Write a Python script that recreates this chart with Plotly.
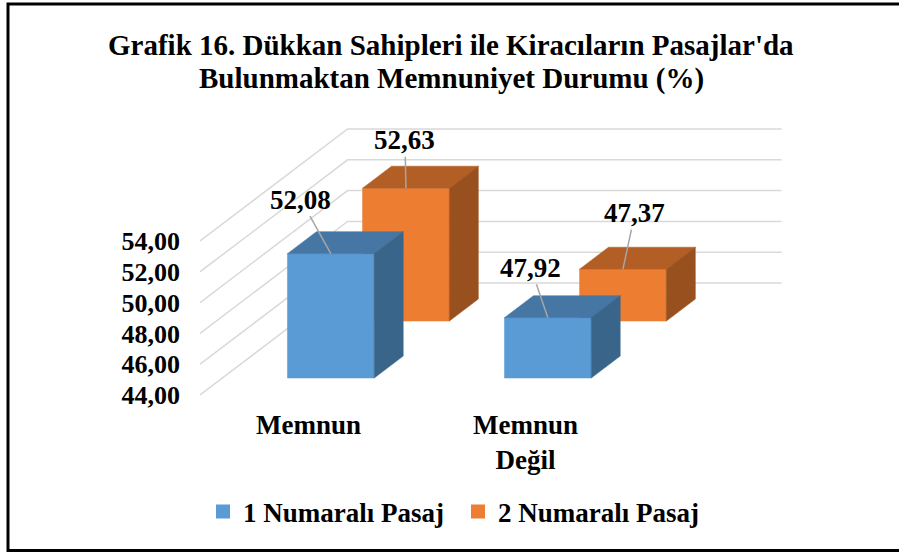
import plotly.graph_objects as go

# ---- data ----
categories = ["Memnun", "Memnun Değil"]
series_names = ["1 Numaralı Pasaj", "2 Numaralı Pasaj"]
pasaj1 = [52.08, 47.92]
pasaj2 = [52.63, 47.37]
y_ticks = [44, 46, 48, 50, 52, 54]
title_lines = ["Grafik 16. Dükkan Sahipleri ile Kiracıların Pasajlar'da",
               "Bulunmaktan Memnuniyet Durumu (%)"]

# ---- style / geometry ----
W, H = 899, 552
ML, MR, MT, MB = 200, 109, 118, 154
PX_PER_CAT = 217.0
PX_PER_VAL = 15.4
pw, ph = W - ML - MR, H - MT - MB
base = y_ticks[0]
y_lo = base - 3 / PX_PER_VAL
x_range = [0, pw / PX_PER_CAT]
y_range = [y_lo, y_lo + ph / PX_PER_VAL]

DDX = 29 / PX_PER_CAT      # depth unit, horizontal (category units)
DDY = 22 / PX_PER_VAL      # depth unit, vertical (value units)
ROWS = [(0.77, 1.77), (3.36, 4.36)]
WALL_Z = 5.09
HALF_W = 0.2

FONT = "Liberation Serif, Times New Roman, serif"
front_cols = ["#5B9BD5", "#ED7D31"]
top_cols = ["#4676A3", "#B25E25"]
side_cols = ["#3A658B", "#99501F"]


def proj(X, V, Z):
    return X + Z * DDX, V + Z * DDY


def py_paper(px_y):
    return (H - MB - px_y) / ph


fig = go.Figure()

# gridlines: left side wall + back wall
gx, gy = [], []
for v in y_ticks:
    for (X, Z) in [(0, 0), (0, WALL_Z), (len(categories), WALL_Z)]:
        px, py = proj(X, v, Z)
        gx.append(px)
        gy.append(py)
    gx.append(None)
    gy.append(None)
fig.add_trace(go.Scatter(x=gx, y=gy, mode="lines",
                         line=dict(color="#D9D9D9", width=1.5),
                         hoverinfo="skip", showlegend=False))


def poly(pts, color):
    xs = [p[0] for p in pts] + [pts[0][0]]
    ys = [p[1] for p in pts] + [pts[0][1]]
    fig.add_trace(go.Scatter(x=xs, y=ys, mode="lines", fill="toself",
                             fillcolor=color, line=dict(color=color, width=0.5),
                             hoverinfo="skip", showlegend=False))


series_vals = [pasaj1, pasaj2]
label_offsets = [[(-30, -54), (-17, -50)], [(-1, -48), (12, -56)]]
annotations = []
for s in [1, 0]:  # back row first
    z0, z1 = ROWS[s]
    for i, val in enumerate(series_vals[s]):
        a, b = i + 0.5 - HALF_W, i + 0.5 + HALF_W
        front = [proj(a, base, z0), proj(b, base, z0), proj(b, val, z0), proj(a, val, z0)]
        top = [proj(a, val, z0), proj(b, val, z0), proj(b, val, z1), proj(a, val, z1)]
        side = [proj(b, base, z0), proj(b, base, z1), proj(b, val, z1), proj(b, val, z0)]
        poly(front, front_cols[s])
        poly(top, top_cols[s])
        poly(side, side_cols[s])
        cx, cy = proj(i + 0.5, val, z0)
        ox, oy = label_offsets[s][i]
        annotations.append(dict(
            x=cx, y=cy, xref="x", yref="y", text=f"{val:.2f}".replace(".", ","),
            showarrow=True, arrowhead=0, arrowwidth=1.5, arrowcolor="#A6A6A6",
            standoff=0, ax=ox, ay=oy,
            font=dict(family=FONT, size=27, color="black", weight="bold")))

# title (two lines with tight spacing)
for line, ypx in zip(title_lines, [45, 78]):
    annotations.append(dict(
        x=(451 - ML) / pw, xref="paper", y=py_paper(ypx), yref="paper",
        xanchor="center", yanchor="middle", showarrow=False, text=line,
        font=dict(family=FONT, size=29, color="black", weight="bold")))

# legend entries
for s in range(2):
    fig.add_trace(go.Scatter(x=[None], y=[None], mode="markers", name=series_names[s],
                             marker=dict(symbol="square", size=14, color=front_cols[s])))

fig.update_layout(
    width=W, height=H,
    margin=dict(l=ML, r=MR, t=MT, b=MB, autoexpand=False),
    paper_bgcolor="white", plot_bgcolor="white",
    separators=",.",
    xaxis=dict(range=x_range, showgrid=False, zeroline=False, showline=False,
               tickvals=[i + 0.5 for i in range(len(categories))],
               ticktext=[c.replace(" ", "<br>") for c in categories],
               ticks="", ticklabelstandoff=8,
               tickfont=dict(family=FONT, size=27, color="black", weight="bold"),
               fixedrange=True),
    yaxis=dict(range=y_range, showgrid=False, zeroline=False, showline=False,
               tickvals=y_ticks, tickformat=".2f", ticks="", ticklabelstandoff=19,
               tickfont=dict(family=FONT, size=26, color="black", weight="bold"),
               fixedrange=True),
    legend=dict(orientation="h", xref="container", yref="container",
                x=458 / W, xanchor="center", y=1 - 512 / H, yanchor="middle",
                itemsizing="trace", entrywidth=210, entrywidthmode="pixels",
                font=dict(family=FONT, size=27, color="black", weight="bold")),
    annotations=annotations,
    shapes=[dict(type="rect", xref="paper", yref="paper",
                 x0=(8 - ML) / pw, x1=(W + 5 - ML) / pw,
                 y0=py_paper(550.5), y1=py_paper(4),
                 line=dict(color="black", width=3), layer="above")],
)

fig.write_html("out.html", config={"displayModeBar": False},
               post_script="document.body.style.margin='0';")
